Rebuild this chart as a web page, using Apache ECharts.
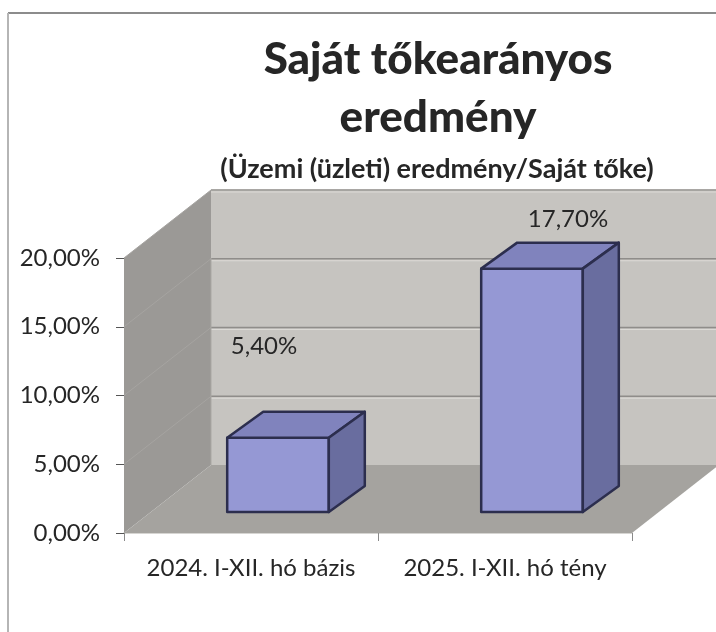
<!DOCTYPE html>
<html>
<head>
<meta charset="utf-8">
<title>Saját tőkearányos eredmény</title>
<script src="https://cdn.jsdelivr.net/npm/echarts@6/dist/echarts.min.js"></script>
<style>
  html, body { margin: 0; padding: 0; background: #fff; }
  #main { width: 716px; height: 632px; }
</style>
</head>
<body>
<div id="main"></div>
<script>
const categories = ['2024. I-XII. hó bázis', '2025. I-XII. hó tény'];
const values = [5.4, 17.7];
const valueTicks = [0, 5, 10, 15, 20];

const fontName = 'Lato, "Open Sans", sans-serif';
const textColor = '#262626';
// how far the back wall sits behind the front axis plane
const roomDx = 87, roomDy = -68;
// the bars stand part way into the room
const barInsetDx = 27, barInsetDy = -21, barDepthDx = 36, barDepthDy = -26;
const barShare = 0.4;
// data labels were placed by hand in the original
const labelLift = [53, 11];
const labelNudge = [-32, 18];

function pct(v) {
    return v.toFixed(2).replace('.', ',') + '%';
}

function poly(points, fill, stroke, width) {
    return {
        type: 'polygon',
        shape: { points: points },
        style: { fill: fill, stroke: stroke || null, lineWidth: width || 0, lineJoin: 'round' }
    };
}

function line(x1, y1, x2, y2, color, width) {
    return {
        type: 'line',
        shape: { x1: x1, y1: y1, x2: x2, y2: y2 },
        style: { stroke: color, lineWidth: width, fill: null }
    };
}

// walls and floor of the 3D room
function renderRoom(params, api) {
    const c = params.coordSys;
    const left = c.x, right = c.x + c.width, bottom = c.y + c.height, top = c.y;
    const kids = [
        // back wall
        poly([[left + roomDx, top + roomDy], [right + roomDx, top + roomDy],
              [right + roomDx, bottom + roomDy], [left + roomDx, bottom + roomDy]], '#c6c4c0'),
        // left wall
        poly([[left, top], [left + roomDx, top + roomDy],
              [left + roomDx, bottom + roomDy], [left, bottom]], '#9b9996'),
        // floor
        poly([[left, bottom], [right, bottom],
              [right + roomDx, bottom + roomDy], [left + roomDx, bottom + roomDy]], '#a5a39f')
    ];
    valueTicks.forEach(function (t) {
        const y = api.coord([0, t])[1];
        if (t > 0) {
            kids.push(line(left + roomDx, y + roomDy, right + roomDx, y + roomDy, '#8f8d8a', 1.5));
            kids.push(line(left + roomDx, y + roomDy + 2, right + roomDx, y + roomDy + 2, '#dcdad6', 1));
            kids.push(line(left, y, left + roomDx, y + roomDy, '#a6a4a1', 1));
        }
    });
    kids.push(line(left + roomDx, top + roomDy, right + roomDx, top + roomDy, '#a9a7a3', 1.5));
    kids.push(line(left + roomDx, top, left + roomDx, bottom + roomDy, '#a9a7a3', 1));
    return { type: 'group', children: kids };
}

function renderBar(params, api) {
    const cat = api.value(0);
    const val = api.value(1);
    const base = api.coord([cat, 0]);
    const head = api.coord([cat, val]);
    const w = api.size([1, 0])[0] * barShare;
    const x0 = base[0] - w / 2 + barInsetDx;
    const x1 = x0 + w;
    const yb = base[1] + barInsetDy;
    const yt = head[1] + barInsetDy;
    const ink = '#2c2e4e';
    return {
        type: 'group',
        children: [
            poly([[x0, yt], [x1, yt], [x1, yb], [x0, yb]], '#9598d4', ink, 2.5),
            poly([[x0, yt], [x0 + barDepthDx, yt + barDepthDy], [x1 + barDepthDx, yt + barDepthDy], [x1, yt]], '#8083bd', ink, 2.5),
            poly([[x1, yt], [x1 + barDepthDx, yt + barDepthDy], [x1 + barDepthDx, yb + barDepthDy], [x1, yb]], '#696d9f', ink, 2.5),
            {
                type: 'text',
                style: {
                    x: (x0 + x1 + barDepthDx) / 2 + labelNudge[params.dataIndex],
                    y: yt + barDepthDy - labelLift[params.dataIndex],
                    text: pct(val),
                    font: '24px ' + fontName,
                    fill: textColor,
                    textAlign: 'center',
                    textVerticalAlign: 'bottom'
                }
            }
        ]
    };
}

const chart = echarts.init(document.getElementById('main'), null, { renderer: 'canvas' });

chart.setOption({
    animation: false,
    backgroundColor: '#fff',
    title: [
        {
            text: 'Saját tőkearányos\neredmény',
            left: 433,
            top: 26,
            textAlign: 'center',
            textStyle: { fontFamily: fontName, fontSize: 44, fontWeight: 900, color: textColor, lineHeight: 58 }
        },
        {
            text: '(Üzemi (üzleti) eredmény/Saját tőke)',
            left: 432,
            top: 151,
            textAlign: 'center',
            textStyle: { fontFamily: fontName, fontSize: 27, fontWeight: 'bold', color: textColor }
        }
    ],
    grid: { left: 124, right: 84, top: 258, bottom: 99 },
    xAxis: {
        type: 'category',
        data: categories,
        axisLine: { show: true, lineStyle: { color: '#c9c7c4', width: 1.5 } },
        axisTick: { show: true, alignWithLabel: false, length: 8, lineStyle: { color: '#8a8a8a' } },
        axisLabel: { fontFamily: fontName, fontSize: 24, color: textColor, margin: 23, interval: 0, hideOverlap: false }
    },
    yAxis: {
        type: 'value',
        min: 0,
        max: 20,
        interval: 5,
        axisLine: { show: false },
        axisTick: { show: true, length: 8, lineStyle: { color: '#555' } },
        splitLine: { show: false },
        axisLabel: { fontFamily: fontName, fontSize: 24, color: textColor, margin: 24, formatter: pct }
    },
    graphic: [
        // scanned page frame
        { type: 'line', shape: { x1: 8, y1: 13, x2: 716, y2: 13 }, style: { stroke: '#8c8c8c', lineWidth: 2 } },
        { type: 'line', shape: { x1: 8, y1: 13, x2: 8, y2: 632 }, style: { stroke: '#b5b5b5', lineWidth: 2 } }
    ],
    series: [
        {
            type: 'custom',
            renderItem: renderRoom,
            clip: false,
            silent: true,
            data: [[0, 0]],
            z: 1
        },
        {
            type: 'custom',
            renderItem: renderBar,
            clip: false,
            encode: { x: 0, y: 1 },
            data: values.map(function (v, i) { return [i, v]; }),
            z: 2
        }
    ]
});
</script>
</body>
</html>
